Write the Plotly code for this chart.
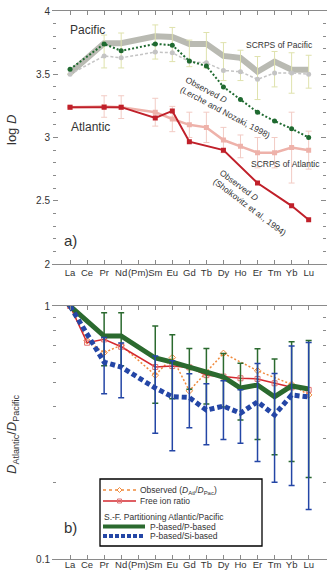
import plotly.graph_objects as go

elements = ["La", "Ce", "Pr", "Nd", "(Pm)", "Sm", "Eu", "Gd", "Tb", "Dy", "Ho", "Er", "Tm", "Yb", "Lu"]
N = None

# ---- Panel a: log D ----
pac_scrps = [3.51, N, 3.745, 3.745, N, 3.80, 3.795, 3.74, 3.74, 3.645, 3.63, 3.52, 3.60, 3.535, 3.535]
pac_model = [3.50, N, 3.645, 3.63, N, 3.675, 3.67, 3.60, 3.59, 3.53, 3.52, 3.46, 3.51, 3.51, 3.50]
pac_err_hi = [N, N, 3.81, 3.826, N, 3.89, 3.87, 3.77, 3.83, 3.75, 3.69, 3.64, 3.68, 3.67, 3.65]
pac_err_lo = [N, N, 3.55, 3.55, N, 3.62, 3.60, 3.56, 3.55, 3.45, 3.45, 3.30, 3.40, 3.35, 3.39]
pac_obs = [3.54, N, 3.74, 3.685, N, 3.74, 3.73, 3.605, 3.565, 3.40, 3.30, 3.20, 3.13, 3.07, 3.00]
atl_scrps = [3.24, N, 3.245, 3.24, N, 3.20, 3.146, 3.10, 3.08, 2.98, 2.93, 2.88, 2.88, 2.92, 2.90]
atl_err = [N, N, 0.085, 0.09, N, 0.11, 0.10, 0.10, 0.12, 0.10, 0.09, 0.12, 0.12, 0.28, 0.15]
atl_obs = [3.24, N, 3.24, 3.24, N, 3.155, 3.21, 2.967, N, 2.90, N, 2.64, N, 2.46, 2.35]

# ---- Panel b: D_Atlantic / D_Pacific ----
obs_ratio = [1.0, 0.73, 0.654, 0.70, N, 0.533, 0.625, 0.462, N, 0.65, N, 0.555, N, 0.49, 0.445]
free_ion = [1.0, 0.716, 0.738, 0.69, N, 0.574, 0.579, 0.572, 0.533, 0.526, 0.518, 0.515, 0.495, 0.477, 0.466]
p_p = [1.0, N, 0.761, 0.761, N, 0.623, 0.60, 0.574, 0.545, 0.524, 0.474, 0.487, 0.438, 0.483, 0.470]
p_p_err = [N, N, 0.18, 0.18, N, 0.21, 0.17, 0.105, 0.135, 0.125, 0.12, 0.19, 0.18, 0.24, 0.26]
p_si = [1.0, N, 0.60, 0.574, N, 0.474, 0.438, 0.435, 0.388, 0.402, 0.377, 0.418, 0.371, 0.445, 0.437]
p_si_err = [N, N, 0.15, 0.14, N, 0.16, 0.17, 0.105, 0.105, 0.105, 0.09, 0.175, 0.17, 0.25, 0.28]

W, H = 330, 571


def px(x):
    return x / W


def py(y):
    return 1 - y / H


pac_up = [None if v is None or h is None else h - v for v, h in zip(pac_model, pac_err_hi)]
pac_dn = [None if v is None or l is None else v - l for v, l in zip(pac_model, pac_err_lo)]

fig = go.Figure()

# Panel a traces
fig.add_trace(go.Scatter(x=elements, y=pac_scrps, mode="lines", connectgaps=True,
                         line=dict(color="#b9bab2", width=6), xaxis="x", yaxis="y"))
fig.add_trace(go.Scatter(x=elements, y=pac_model, mode="lines+markers", connectgaps=True,
                         line=dict(color="#c4c4c4", width=1.5, dash="3px,2px"),
                         marker=dict(color="#c4c4c4", size=5),
                         error_y=dict(type="data", array=pac_up, arrayminus=pac_dn, color="#dfe2ad",
                                      thickness=1, width=3),
                         xaxis="x", yaxis="y"))
fig.add_trace(go.Scatter(x=elements, y=atl_scrps, mode="lines+markers", connectgaps=True,
                         line=dict(color="#eeb2aa", width=2.5),
                         marker=dict(color="#eeb2aa", size=5, symbol="square"),
                         error_y=dict(type="data", array=atl_err, color="#f2cbc4", thickness=1, width=3),
                         xaxis="x", yaxis="y"))
fig.add_trace(go.Scatter(x=elements, y=pac_obs, mode="lines+markers", connectgaps=True,
                         line=dict(color="#1f6a30", width=2, dash="2px,2px"),
                         marker=dict(color="#1f6a30", size=5),
                         xaxis="x", yaxis="y"))
fig.add_trace(go.Scatter(x=elements, y=atl_obs, mode="lines+markers", connectgaps=True,
                         line=dict(color="#c0202a", width=2),
                         marker=dict(color="#c0202a", size=5, symbol="square"),
                         xaxis="x", yaxis="y"))

# Panel b traces
fig.add_trace(go.Scatter(x=elements, y=obs_ratio, mode="lines+markers", connectgaps=True,
                         line=dict(color="#f08a3c", width=1.5, dash="2px,2px"),
                         marker=dict(color="#f08a3c", size=5, symbol="diamond-open"),
                         xaxis="x2", yaxis="y2"))
fig.add_trace(go.Scatter(x=elements, y=free_ion, mode="lines+markers", connectgaps=True,
                         line=dict(color="#d42a30", width=1.5),
                         marker=dict(color="#e07070", size=5, symbol="square-open"),
                         xaxis="x2", yaxis="y2"))
fig.add_trace(go.Scatter(x=elements, y=p_p, mode="lines", connectgaps=True,
                         line=dict(color="#2b6a2f", width=5),
                         error_y=dict(type="data", array=p_p_err, color="#2b6a2f", thickness=1.5, width=3),
                         xaxis="x2", yaxis="y2"))
fig.add_trace(go.Scatter(x=elements, y=p_si, mode="lines", connectgaps=True,
                         line=dict(color="#2446a6", width=5, dash="5px,3px"),
                         error_y=dict(type="data", array=p_si_err, color="#2446a6", thickness=1.5, width=3),
                         xaxis="x2", yaxis="y2"))

axcol = "#8a8a8a"
common = dict(showgrid=False, zeroline=False, tickcolor=axcol, ticks="inside", automargin=False)
xdom = [px(53), px(325.7)]
xcommon = dict(domain=xdom, type="category", categoryorder="array", categoryarray=elements,
               range=[-1, 15], showline=True, linecolor=axcol, mirror="ticks", ticklen=4,
               tickangle=0, tickfont=dict(size=9.5), **common)
ycommon = dict(showline=True, linecolor="rgba(0,0,0,0)", mirror="ticks", ticklen=5,
               tickfont=dict(size=10), **common)

fig.update_layout(
    width=W, height=H, margin=dict(l=0, r=0, t=0, b=0, autoexpand=False),
    paper_bgcolor="white", plot_bgcolor="white", showlegend=False,
    font=dict(family="Liberation Sans, Arial, sans-serif", size=9, color="#333"),
    xaxis=dict(anchor="y", **xcommon),
    yaxis=dict(domain=[py(264), py(11)], anchor="x", range=[2, 4], tickvals=[2, 2.5, 3, 3.5, 4],
               ticktext=["2", "2.5", "3", "3.5", "4"],
               minor=dict(dtick=0.1, ticks="inside", ticklen=2.5, tickcolor=axcol), **ycommon),
    xaxis2=dict(anchor="y2", ticklabelstandoff=-3, **xcommon),
    yaxis2=dict(domain=[py(559), py(306)], anchor="x2", type="log", range=[-1, 0], tickvals=[0.1, 1],
                ticktext=["0.1", "1"],
                minor=dict(tickvals=[0.2, 0.3, 0.4, 0.5, 0.6, 0.7, 0.8, 0.9], ticks="inside", ticklen=3,
                           tickcolor=axcol), **ycommon),
)

ann = []


def A(text, x, y, size=9, xanchor="center", angle=0, align="center", color="#333"):
    ann.append(dict(text=text, x=px(x), y=py(y), xref="paper", yref="paper", showarrow=False,
                    xanchor=xanchor, yanchor="middle", textangle=angle, align=align,
                    font=dict(size=size, color=color)))


A("Pacific", 68, 30, size=12, xanchor="left")
A("Atlantic", 69, 127, size=12, xanchor="left")
A("SCRPS of Pacific", 279, 45, size=8.5)
A("SCRPS of Atlantic", 285, 164, size=8.5)
A("Observed <i>D</i><br>(Lerche and Nozaki, 1998)", 228, 107, size=8.5, angle=28, align="left")
A("Observed <i>D</i><br>(Sholkovitz et al., 1994)", 253, 202, size=8.5, angle=37, align="left")
A("a)", 62, 240, size=15, xanchor="left")
A("b)", 62, 527, size=15, xanchor="left")
A("log <i>D</i>", 12, 130, size=13, angle=-90)
A("<i>D</i><sub>Atlantic</sub>/<i>D</i><sub>Pacific</sub>", 12, 435, size=13, angle=-90)

# legend (manual box)
A("Observed (<i>D</i><sub>Atl</sub>/<i>D</i><sub>Pac</sub>)", 138, 490, size=8.5, xanchor="left")
A("Free ion ratio", 138, 501, size=8.5, xanchor="left")
A("S.-F. Partitioning Atlantic/Pacific", 102, 516.5, size=8.5, xanchor="left")
A("P-based/P-based", 148, 526.5, size=8.5, xanchor="left")
A("P-based/Si-based", 148, 536, size=8.5, xanchor="left")


def diamond(cx, cy, r):
    return (f"M {px(cx - r)} {py(cy)} L {px(cx)} {py(cy - r)} L {px(cx + r)} {py(cy)} "
            f"L {px(cx)} {py(cy + r)} Z")


shapes = [
    dict(type="rect", xref="paper", yref="paper", x0=px(100), x1=px(262), y0=py(546), y1=py(479),
         line=dict(color="black", width=1.3), fillcolor="white", layer="above"),
    dict(type="line", xref="paper", yref="paper", x0=px(103), x1=px(136), y0=py(490), y1=py(490),
         line=dict(color="#f08a3c", width=1.5, dash="dot"), layer="above"),
    dict(type="path", xref="paper", yref="paper", path=diamond(119.5, 490, 2.5),
         line=dict(color="#f08a3c", width=1), fillcolor="white", layer="above"),
    dict(type="line", xref="paper", yref="paper", x0=px(103), x1=px(136), y0=py(501), y1=py(501),
         line=dict(color="#d42a30", width=1.5), layer="above"),
    dict(type="rect", xref="paper", yref="paper", x0=px(117.5), x1=px(121.5), y0=py(503), y1=py(499),
         line=dict(color="#e07070", width=1), fillcolor="rgba(0,0,0,0)", layer="above"),
    dict(type="line", xref="paper", yref="paper", x0=px(103), x1=px(145), y0=py(526.5), y1=py(526.5),
         line=dict(color="#2b6a2f", width=4), layer="above"),
    dict(type="line", xref="paper", yref="paper", x0=px(103), x1=px(145), y0=py(536), y1=py(536),
         line=dict(color="#2446a6", width=4, dash="4px,2px"), layer="above"),
]
fig.update_layout(annotations=ann, shapes=shapes)

fig.write_html("out.html")
